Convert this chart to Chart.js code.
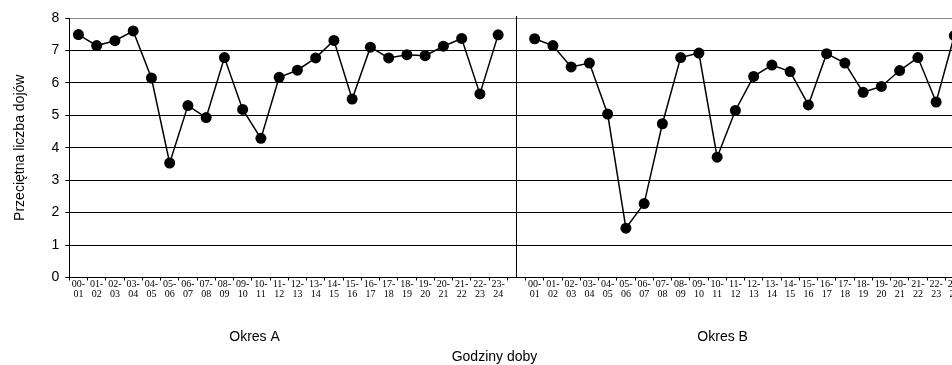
<!DOCTYPE html>
<html>
<head>
<meta charset="utf-8">
<script src="https://cdn.jsdelivr.net/npm/chart.js@4.4.0/dist/chart.umd.min.js"></script>
<style>
body { margin: 0; overflow: hidden; background: #fff; }
#wrap { width: 980px; height: 365px; }
</style>
</head>
<body>
<div id="wrap"><canvas id="grafica" width="980" height="365"></canvas></div>
<script>
// godziny doby (etykiety osi X)
const godziny = ['00-01', '01-02', '02-03', '03-04', '04-05', '05-06', '06-07', '07-08',
    '08-09', '09-10', '10-11', '11-12', '12-13', '13-14', '14-15', '15-16',
    '16-17', '17-18', '18-19', '19-20', '20-21', '21-22', '22-23', '23-24'];

// przecietna liczba dojow
const okresA = [7.49, 7.15, 7.30, 7.60, 6.15, 3.53, 5.30, 4.93, 6.78, 5.18, 4.29, 6.17,
    6.39, 6.77, 7.31, 5.50, 7.10, 6.77, 6.87, 6.84, 7.13, 7.37, 5.66, 7.48];
const okresB = [7.36, 7.15, 6.49, 6.61, 5.04, 1.52, 2.28, 4.74, 6.78, 6.92, 3.71, 5.15,
    6.20, 6.55, 6.35, 5.32, 6.90, 6.61, 5.71, 5.89, 6.38, 6.78, 5.41, 7.46];

const yTicks = [0, 1, 2, 3, 4, 5, 6, 7, 8];

// pusta kategoria miedzy okresami
const etykiety = [...godziny, '', ...godziny].map(g => g ? [g.slice(0, 3), g.slice(3)] : '');
const wartosci = [...okresA, null, ...okresB];

const opisy = {
    id: 'opisy',
    afterDraw(chart) {
        const ctx = chart.ctx;
        const x = chart.scales.x;
        const area = chart.chartArea;
        const p0 = x.getPixelForValue(0);
        const krok = x.getPixelForValue(1) - p0;

        // linia oddzielajaca okresy
        const sep = Math.round(x.getPixelForValue(24)) + 0.5;
        ctx.save();
        ctx.strokeStyle = '#000';
        ctx.lineWidth = 1;
        ctx.beginPath();
        ctx.moveTo(sep, area.top - 2);
        ctx.lineTo(sep, area.bottom);
        ctx.stroke();

        ctx.fillStyle = '#000';
        ctx.font = '14px "Liberation Sans", Arial, sans-serif';
        ctx.textAlign = 'center';
        ctx.textBaseline = 'middle';
        ctx.fillText('Okres A', p0 + 9.65 * krok, 337);
        ctx.fillText('Okres B', p0 + 35.3 * krok, 337);
        ctx.fillText('Godziny doby', p0 + 22.8 * krok, 357);
        ctx.restore();
    }
};

new Chart(document.getElementById('grafica').getContext('2d'), {
    type: 'line',
    data: {
        labels: etykiety,
        datasets: [{
            data: wartosci,
            borderColor: '#000',
            borderWidth: 1.5,
            pointRadius: 5.5,
            pointHoverRadius: 5.5,
            pointBackgroundColor: '#000',
            pointBorderWidth: 0,
            tension: 0,
            spanGaps: false
        }]
    },
    options: {
        responsive: false,
        animation: false,
        layout: { padding: { top: 18, right: 16.5, left: 0, bottom: 0 } },
        plugins: {
            legend: { display: false },
            title: { display: false },
            tooltip: { enabled: false }
        },
        scales: {
            x: {
                type: 'category',
                offset: true,
                grid: { drawOnChartArea: false, offset: true, tickLength: 3, tickColor: '#000' },
                border: { color: '#000' },
                ticks: {
                    autoSkip: false,
                    maxRotation: 0,
                    minRotation: 0,
                    padding: -1,
                    color: '#000',
                    font: { family: '"Liberation Serif", "Times New Roman", serif', size: 10, lineHeight: 1 }
                },
                afterFit: s => { s.height = 87.5; }
            },
            y: {
                min: 0,
                max: 8,
                afterBuildTicks: s => { s.ticks = yTicks.map(v => ({ value: v })); },
                grid: {
                    color: c => (c.tick && c.tick.value === 8 ? '#888' : '#000'),
                    tickLength: 4,
                    tickColor: '#000'
                },
                border: { color: '#000' },
                ticks: {
                    padding: 6,
                    color: '#000',
                    font: { family: '"Liberation Sans", Arial, sans-serif', size: 14 }
                },
                title: {
                    display: true,
                    text: 'Przeciętna liczba dojów',
                    color: '#000',
                    padding: { top: 12, bottom: 0 },
                    font: { family: '"Liberation Sans", Arial, sans-serif', size: 14 }
                },
                afterFit: s => { s.width = 69.3; }
            }
        }
    },
    plugins: [opisy]
});
</script>
</body>
</html>
